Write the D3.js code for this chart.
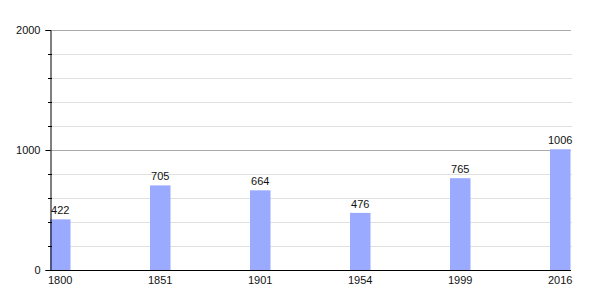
<!DOCTYPE html>
<html>
<head>
<meta charset="utf-8">
<script src="https://cdn.jsdelivr.net/npm/d3@7"></script>
<style>
  body { margin: 0; background: #fff; }
  svg text { font-family: "Liberation Sans", Arial, sans-serif; font-size: 11px; fill: #111; }
</style>
</head>
<body>
<svg id="chart" width="600" height="300"></svg>
<script>
// donnees (annee / population)
const years = ['1800', '1851', '1901', '1954', '1999', '2016'];
const population = [422, 705, 664, 476, 765, 1006];
const majorTicks = [0, 1000, 2000];
const minorTicks = [200, 400, 600, 800, 1200, 1400, 1600, 1800];

const plotLeft = 50;
const plotRight = 571;
const plotTop = 30;
const plotBottom = 270;
const barWidth = 20.5;

const svg = d3.select('#chart');

const x = d3.scalePoint() // une barre tous les 100px
    .domain(years)
    .range([plotLeft, plotLeft + 500]);

const y = d3.scaleLinear()
    .domain([0, 2000])
    .range([plotBottom, plotTop]);

// grille secondaire
svg.append('g')
    .selectAll('line')
    .data(minorTicks)
    .join('line')
        .attr('x1', plotLeft)
        .attr('x2', plotRight + 1)
        .attr('y1', d => y(d) + 0.5)
        .attr('y2', d => y(d) + 0.5)
        .attr('stroke', '#e0e0e0')
        .attr('stroke-width', 1);

// grille principale
svg.append('g')
    .selectAll('line')
    .data(majorTicks.filter(d => d > 0))
    .join('line')
        .attr('x1', plotLeft)
        .attr('x2', plotRight)
        .attr('y1', d => y(d) + 0.5)
        .attr('y2', d => y(d) + 0.5)
        .attr('stroke', '#aaaaaa')
        .attr('stroke-width', 1);

// barres
svg.append('g')
    .selectAll('rect')
    .data(population)
    .join('rect')
        .attr('x', (d, i) => x(years[i]))
        .attr('y', d => y(d))
        .attr('width', barWidth)
        .attr('height', d => plotBottom - y(d))
        .attr('fill', '#99aaff');

// valeurs au-dessus des barres
svg.append('g')
    .selectAll('text')
    .data(population)
    .join('text')
        .attr('x', (d, i) => x(years[i]) + barWidth / 2)
        .attr('y', d => y(d) - 5)
        .attr('text-anchor', 'middle')
        .text(d => d);

// axe Y
const yAxis = d3.axisLeft(y)
    .tickValues(majorTicks)
    .tickFormat(d => `${d}`)
    .tickSize(5)
    .tickPadding(5);

const gy = svg.append('g')
    .attr('transform', `translate(${plotLeft + 0.5},0)`)
    .call(yAxis);
gy.select('.domain').attr('stroke', '#000');
gy.selectAll('.tick line').attr('stroke', '#000');
gy.selectAll('.tick text').attr('font-size', 11).attr('font-family', null);

// petites graduations
svg.append('g')
    .selectAll('line')
    .data(minorTicks)
    .join('line')
        .attr('x1', plotLeft - 2)
        .attr('x2', plotLeft + 2)
        .attr('y1', d => y(d) + 0.5)
        .attr('y2', d => y(d) + 0.5)
        .attr('stroke', '#000');

// axe X (ligne de base)
svg.append('line')
    .attr('x1', plotLeft)
    .attr('x2', plotRight)
    .attr('y1', plotBottom + 0.5)
    .attr('y2', plotBottom + 0.5)
    .attr('stroke', '#000');

svg.append('g')
    .selectAll('text')
    .data(years)
    .join('text')
        .attr('x', d => x(d) + barWidth / 2)
        .attr('y', plotBottom + 14)
        .attr('text-anchor', 'middle')
        .text(d => d);
</script>
</body>
</html>
